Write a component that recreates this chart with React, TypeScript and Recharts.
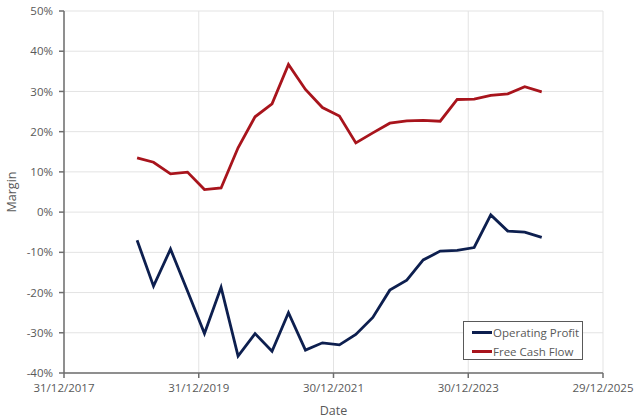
import React from 'react';
import { LineChart, Line, XAxis, YAxis, CartesianGrid, Legend } from 'recharts';

const quarterEnds = [
  '2019-01-31', '2019-04-30', '2019-07-31', '2019-10-31',
  '2020-01-31', '2020-04-30', '2020-07-31', '2020-10-31',
  '2021-01-31', '2021-04-30', '2021-07-31', '2021-10-31',
  '2022-01-31', '2022-04-30', '2022-07-31', '2022-10-31',
  '2023-01-31', '2023-04-30', '2023-07-31', '2023-10-31',
  '2024-01-31', '2024-04-30', '2024-07-31', '2024-10-31',
  '2025-01-31',
];

const operatingProfit = [
  -7.0, -18.4, -9.2, -19.6, -30.2, -18.7, -35.8, -30.2, -34.6, -25.0,
  -34.3, -32.5, -33.0, -30.4, -26.2, -19.4, -16.9, -11.9, -9.7, -9.5,
  -8.8, -0.7, -4.7, -5.0, -6.3,
];

const freeCashFlow = [
  13.5, 12.4, 9.5, 9.95, 5.6, 6.0, 16.0, 23.7, 26.9, 36.7,
  30.5, 26.0, 23.9, 17.2, 19.7, 22.1, 22.7, 22.8, 22.6, 28.0,
  28.1, 29.0, 29.4, 31.2, 29.9,
];

const xTickDates = ['2017-12-31', '2019-12-31', '2021-12-30', '2023-12-30', '2025-12-29'];
const yTicks = [-40, -30, -20, -10, 0, 10, 20, 30, 40, 50];
const seriesOrder = ['op', 'fcf'];

const toTs = (s: string) => Date.parse(s + 'T00:00:00Z');
const fmtDate = (t: number) => {
  const d = new Date(t);
  const dd = String(d.getUTCDate()).padStart(2, '0');
  const mm = String(d.getUTCMonth() + 1).padStart(2, '0');
  return `${dd}/${mm}/${d.getUTCFullYear()}`;
};

const data = quarterEnds.map((q, i) => ({
  t: toTs(q),
  op: operatingProfit[i],
  fcf: freeCashFlow[i],
}));

const xTicks = xTickDates.map(toTs);

const FONT = '"Open Sans", Lato, sans-serif';
const TEXT = '#595959';
const AXIS = '#6e6e6e';

const LegendBox = (props: any) => {
  const payload = [...(props.payload || [])].sort(
    (a: any, b: any) => seriesOrder.indexOf(a.dataKey) - seriesOrder.indexOf(b.dataKey)
  );
  return (
    <div
      style={{
        border: '1.5px solid #595959',
        background: '#fff',
        width: 120,
        height: 39,
        boxSizing: 'border-box',
        padding: '3px 0 0 8px',
        fontFamily: FONT,
        fontSize: 11.5,
        color: TEXT,
      }}
    >
      {payload.map((p: any) => (
        <div key={p.value} style={{ display: 'flex', alignItems: 'center', height: 15, marginBottom: 3.5 }}>
          <div style={{ width: 20, height: 3, background: p.color, marginRight: 1 }} />
          <span style={{ whiteSpace: 'nowrap', lineHeight: '15px' }}>{p.value}</span>
        </div>
      ))}
    </div>
  );
};

export default function App() {
  return (
    <div style={{ position: 'absolute', left: 0, top: 0, width: 640, height: 418, background: '#fff' }}>
      <LineChart
        width={640}
        height={418}
        data={data}
        margin={{ top: 11, right: 37, left: 0, bottom: 0 }}
      >
        <CartesianGrid stroke="#e3e3e3" strokeWidth={1} horizontal vertical />
        <XAxis
          dataKey="t"
          type="number"
          scale="linear"
          domain={[xTicks[0], xTicks[xTicks.length - 1]]}
          ticks={xTicks}
          tickFormatter={fmtDate}
          height={45}
          stroke={AXIS}
          strokeWidth={1.5}
          tickSize={5}
          tickMargin={6}
          tick={{ fill: TEXT, fontSize: 11.5, fontFamily: FONT }}
          label={{ value: 'Date', position: 'insideBottom', offset: 3, fill: TEXT, fontSize: 12.5, fontFamily: FONT }}
          allowDataOverflow
        />
        <YAxis
          type="number"
          domain={[-40, 50]}
          ticks={yTicks}
          tickFormatter={(v: number) => `${v}%`}
          width={64}
          stroke={AXIS}
          strokeWidth={1.5}
          tickSize={5}
          tickMargin={6}
          tick={{ fill: TEXT, fontSize: 11.5, fontFamily: FONT }}
          label={{ value: 'Margin', angle: -90, position: 'insideLeft', offset: 12, fill: TEXT, fontSize: 12.5, fontFamily: FONT, style: { textAnchor: 'middle' } }}
          interval={0}
        />
        <Legend
          layout="vertical"
          verticalAlign="middle"
          align="center"
          content={<LegendBox />}
          wrapperStyle={{ position: 'absolute', left: 463, top: 321, width: 120, height: 39 }}
        />
        <Line
          type="linear"
          dataKey="op"
          name="Operating Profit"
          stroke="#0d1f4f"
          strokeWidth={2.8}
          dot={false}
          isAnimationActive={false}
        />
        <Line
          type="linear"
          dataKey="fcf"
          name="Free Cash Flow"
          stroke="#a8141c"
          strokeWidth={2.8}
          dot={false}
          isAnimationActive={false}
        />
      </LineChart>
    </div>
  );
}
